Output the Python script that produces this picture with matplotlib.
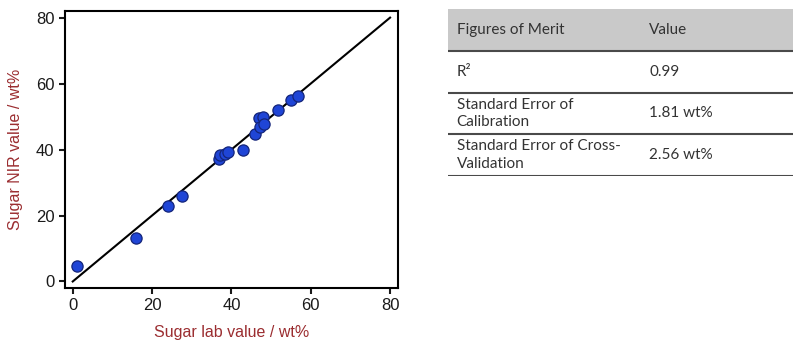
import matplotlib
matplotlib.use("Agg")
import matplotlib.pyplot as plt
from matplotlib.patches import Rectangle

# sugar calibration data (lab vs NIR, wt%)
lab_values = [1.0, 16.0, 24.0, 27.5, 36.8, 37.1, 38.4, 39.1, 43.0,
              46.0, 46.9, 48.0, 47.3, 48.3, 51.8, 54.9, 56.9]
nir_values = [4.6, 13.2, 23.0, 25.8, 37.1, 38.4, 38.8, 39.4, 40.0,
              44.8, 49.6, 49.9, 46.8, 47.6, 52.0, 54.9, 56.2]
ideal_line = [0, 80]
axis_ticks = [0, 20, 40, 60, 80]

# figures of merit table
table_header = ["Figures of Merit", "Value"]
merit_names = ["R\u00b2", "Standard Error of\nCalibration",
               "Standard Error of Cross-\nValidation"]
merit_values = ["0.99", "1.81 wt%", "2.56 wt%"]

plt.rcParams["font.family"] = ["Liberation Sans", "DejaVu Sans"]

fig = plt.figure(figsize=(8.0, 3.45), dpi=100)

ax = fig.add_axes([0.081, 0.165, 0.4165, 0.803])
ax.plot(ideal_line, ideal_line, color="black", lw=1.5, zorder=2)
ax.scatter(lab_values, nir_values, s=65, color="#1f45d6",
           edgecolors="#14257a", linewidths=0.9, zorder=3)
ax.set_xlim(-2, 82)
ax.set_ylim(-2, 82)
ax.set_xticks(axis_ticks)
ax.set_yticks(axis_ticks)
ax.tick_params(direction="out", length=4.5, width=1.5, labelsize=12,
               colors="#1a1a1a", pad=3)
for sp in ax.spines.values():
    sp.set_linewidth(1.5)
red = "#9b2d30"
ax.set_xlabel("Sugar lab value / wt%", color=red, fontsize=11.5, labelpad=8)
ax.set_ylabel("Sugar NIR value / wt%", color=red, fontsize=11.5, labelpad=9)

# table drawn on its own axes
tab = fig.add_axes([0.56, 0.49, 0.431, 0.483])
tab.set_xlim(0, 1)
tab.set_ylim(len(merit_names) + 1, 0)
tab.axis("off")

font_tab = ["Lato", "DejaVu Sans"]
txt_col = "#333333"
col_x = [0.025, 0.583]

tab.add_patch(Rectangle((0, 0), 1, 1, facecolor="#c9c9c9", edgecolor="none"))
for j, h in enumerate(table_header):
    tab.text(col_x[j], 0.5, h, va="center", ha="left", fontsize=11,
             color=txt_col, family=font_tab)

for i, (name, val) in enumerate(zip(merit_names, merit_values)):
    y = i + 1.5
    tab.text(col_x[0], y, name, va="center", ha="left", fontsize=11,
             color=txt_col, family=font_tab, linespacing=1.3)
    tab.text(col_x[1], y, val, va="center", ha="left", fontsize=11,
             color=txt_col, family=font_tab)

for k in range(1, len(merit_names) + 2):
    tab.plot([0, 1], [k, k], color="#4a4a4a", lw=1.5, solid_capstyle="butt")

fig.savefig("out.png", dpi=100)
